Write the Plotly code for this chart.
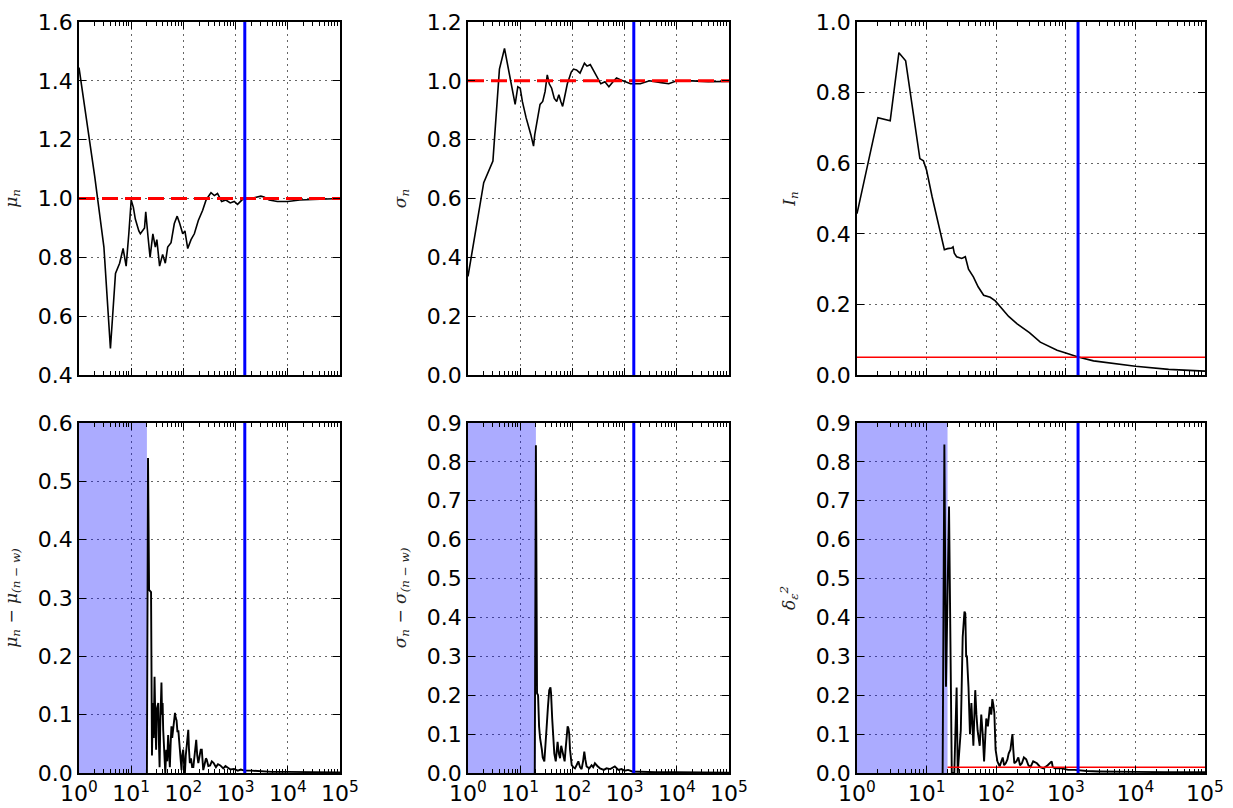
import plotly.graph_objects as go

# ---------------- data ----------------
n_mu = [1, 2, 3, 4, 5, 6, 7, 8, 9, 10, 11, 12, 14, 15, 18, 19, 21, 23, 26, 29, 31, 35, 40, 45, 50,
        58, 67, 76, 85, 97, 107, 121, 140, 162, 193, 234, 272, 338, 392, 450, 540, 650, 790, 940,
        1090, 1360, 1960, 3050, 3500, 4400, 6300, 10000, 17000, 40000, 100000]
mu = [1.445, 1.075, 0.835, 0.49, 0.745, 0.78, 0.83, 0.77, 0.88, 0.995, 0.97, 0.93, 0.89, 0.88, 0.90,
      0.955, 0.87, 0.80, 0.88, 0.835, 0.86, 0.77, 0.81, 0.78, 0.835, 0.85, 0.915, 0.94, 0.915, 0.88,
      0.89, 0.83, 0.86, 0.88, 0.925, 0.96, 0.995, 1.02, 1.01, 1.017, 0.99, 0.995, 0.985, 0.99,
      0.98, 0.997, 1.0, 1.008, 1.005, 0.995, 0.99, 0.99, 0.995, 0.998, 1.0]

n_sigma = [1, 2, 3, 4, 5, 6, 7, 8, 9, 10, 11, 13, 16, 18, 19, 21, 24, 27, 30, 33, 36, 40, 45, 50, 55,
           60, 65, 70, 80, 95, 105, 120, 140, 170, 190, 220, 260, 300, 350, 420, 500, 600, 700, 850,
           1000, 1300, 2000, 3000, 5000, 7000, 10000, 20000, 40000, 100000]
sigma = [0.335, 0.654, 0.727, 1.04, 1.11, 1.04, 0.975, 0.92, 0.98, 0.975, 0.93, 0.874, 0.817, 0.778,
         0.817, 0.862, 0.92, 0.93, 0.964, 1.02, 0.99, 0.975, 0.94, 0.93, 0.953, 0.93, 0.913, 0.94,
         0.99, 1.03, 1.04, 1.037, 1.026, 1.06, 1.05, 1.055, 1.03, 1.01, 0.99, 0.997, 0.98, 0.997,
         1.01, 1.003, 0.997, 0.99, 0.99, 1.0, 0.994, 0.99, 1.0, 1.0, 0.997, 0.998]

n_info = [1, 2, 3, 4, 5, 6, 7, 8, 9, 10, 12, 14, 16, 18, 20, 23, 24, 25, 27, 30, 32, 36, 40, 47, 55,
          66, 82, 97, 120, 151, 200, 250, 300, 430, 600, 750, 1000, 1500, 2500, 3900, 10000, 30000,
          100000]
info = [0.457, 0.729, 0.72, 0.913, 0.89, 0.78, 0.68, 0.613, 0.607, 0.58, 0.505, 0.448, 0.40, 0.355,
        0.358, 0.36, 0.363, 0.345, 0.335, 0.332, 0.33, 0.335, 0.30, 0.278, 0.25, 0.226, 0.22, 0.21,
        0.188, 0.166, 0.145, 0.131, 0.12, 0.093, 0.08, 0.07, 0.062, 0.051, 0.04, 0.035, 0.025,
        0.016, 0.011]

n_dmu = [20, 21, 22, 24, 25, 26, 27, 28, 29, 30, 31, 33, 34, 35, 36, 38, 39, 40, 41, 43, 45, 47, 49,
         51, 53, 55, 57, 59, 61, 63, 66, 69, 71, 74, 77, 80, 83, 86, 89, 92, 95, 99, 103, 107, 111,
         116, 120, 124, 128, 133, 140, 147, 155, 163, 170, 176, 184, 193, 205, 215, 225, 232, 240,
         255, 270, 280, 300, 325, 350, 380, 420, 460, 510, 580, 640, 690, 800, 930, 1100, 1260,
         1460, 2000, 3000, 5000, 10000, 30000, 100000]
dmu = [0.0, 0.54, 0.314, 0.31, 0.03, 0.12, 0.06, 0.165, 0.09, 0.04, 0.11, 0.12, 0.05, 0.01, 0.08,
       0.155, 0.1, 0.12, 0.074, 0.03, 0.0, 0.04, 0.02, 0.065, 0.03, 0.01, 0.05, 0.08, 0.06, 0.074,
       0.09, 0.103, 0.095, 0.09, 0.07, 0.073, 0.055, 0.04, 0.02, 0.005, 0.03, 0.04, 0.015, 0.0,
       0.03, 0.05, 0.065, 0.074, 0.04, 0.017, 0.025, 0.01, 0.01, 0.03, 0.05, 0.057, 0.03, 0.017,
       0.03, 0.04, 0.04, 0.02, 0.005, 0.015, 0.025, 0.023, 0.012, 0.013, 0.02, 0.017, 0.01, 0.015,
       0.013, 0.008, 0.012, 0.01, 0.006, 0.007, 0.004, 0.006, 0.004, 0.004, 0.003, 0.002, 0.002,
       0.001, 0.001]

n_dsigma = [19, 20, 21, 22, 23, 24, 26, 27, 29, 30, 32, 34, 36, 38, 39, 41, 43, 45, 48, 50, 52, 55,
            58, 61, 63, 67, 71, 74, 78, 81, 84, 87, 90, 94, 97, 104, 112, 120, 130, 140, 150, 160,
            169, 177, 187, 210, 233, 250, 270, 300, 337, 400, 450, 530, 650, 760, 870, 1000, 1170,
            1400, 2000, 4000, 10000, 30000, 100000]
dsigma = [0.0, 0.843, 0.205, 0.2, 0.12, 0.09, 0.06, 0.04, 0.03, 0.07, 0.115, 0.17, 0.213, 0.22,
          0.205, 0.14, 0.085, 0.05, 0.03, 0.06, 0.08, 0.05, 0.038, 0.07, 0.06, 0.04, 0.03, 0.06,
          0.1, 0.12, 0.115, 0.1, 0.06, 0.03, 0.02, 0.015, 0.012, 0.02, 0.03, 0.015, 0.01, 0.03,
          0.055, 0.035, 0.017, 0.012, 0.02, 0.015, 0.025, 0.018, 0.012, 0.008, 0.012, 0.01, 0.017,
          0.008, 0.01, 0.006, 0.008, 0.004, 0.003, 0.002, 0.002, 0.001, 0.001]

n_delta = [17, 18, 19, 21, 23, 25, 27, 28, 31, 33, 35, 36, 37, 38, 40, 42, 44, 47, 48, 50, 52, 54,
           58, 61, 64, 67, 70, 72, 76, 81, 85, 88, 91, 94, 98, 104, 112, 118, 124, 130, 137, 145,
           151, 160, 171, 176, 182, 195, 208, 220, 234, 250, 270, 290, 310, 340, 385, 430, 480,
           550, 627, 650, 700, 870, 1080, 1340, 2000, 3000, 5000, 10000, 30000, 100000]
delta = [0.0, 0.845, 0.222, 0.685, 0.0, 0.0, 0.22, 0.0, 0.11, 0.35, 0.415, 0.41, 0.3, 0.3, 0.22,
         0.1, 0.18, 0.07, 0.12, 0.213, 0.15, 0.11, 0.07, 0.15, 0.1, 0.03, 0.1, 0.14, 0.12, 0.17,
         0.15, 0.19, 0.175, 0.155, 0.06, 0.03, 0.017, 0.03, 0.04, 0.02, 0.025, 0.035, 0.05, 0.06,
         0.1, 0.06, 0.025, 0.03, 0.04, 0.02, 0.025, 0.04, 0.035, 0.02, 0.015, 0.03, 0.025, 0.015,
         0.012, 0.02, 0.03, 0.015, 0.012, 0.012, 0.008, 0.008, 0.005, 0.004, 0.003, 0.003, 0.002,
         0.002]

n_start, n_end = 1, 100000
window = 20          # shaded warm-up window
n_stop = 1500        # stopping point (blue line)
mu_true = 1.0
sigma_true = 1.0
info_threshold = 0.05
delta_threshold = 0.015

decade_vals = [1, 10, 100, 1000, 10000, 100000]
decade_text = ["10<sup>0</sup>", "10<sup>1</sup>", "10<sup>2</sup>", "10<sup>3</sup>",
               "10<sup>4</sup>", "10<sup>5</sup>"]
minor_vals = [m * d for d in decade_vals[:-1] for m in range(2, 10)]

# ---------------- figure ----------------
W, H = 1233, 808
col_px = [(79, 340), (468, 729), (857, 1205)]
row_px = [(22, 375), (423, 773)]

panels = [
    dict(n=n_mu, v=mu, yr=[0.4, 1.6], dt=0.2, title="<i>μ<sub>n</sub></i>", ref=mu_true),
    dict(n=n_sigma, v=sigma, yr=[0.0, 1.2], dt=0.2, title="<i>σ<sub>n</sub></i>", ref=sigma_true),
    dict(n=n_info, v=info, yr=[0.0, 1.0], dt=0.2, title="<i>I<sub>n</sub></i>", thr=(n_start, info_threshold)),
    dict(n=n_dmu, v=dmu, yr=[0.0, 0.6], dt=0.1, title="<i>μ<sub>n</sub></i> − <i>μ<sub>(n − w)</sub></i>", shade=True),
    dict(n=n_dsigma, v=dsigma, yr=[0.0, 0.9], dt=0.1, title="<i>σ<sub>n</sub></i> − <i>σ<sub>(n − w)</sub></i>", shade=True),
    dict(n=n_delta, v=delta, yr=[0.0, 0.9], dt=0.1, title="<i>δ<sub>ε</sub><sup>2</sup></i>", shade=True,
         thr=(window, delta_threshold)),
]

fig = go.Figure()
layout = dict(width=W, height=H, margin=dict(l=0, r=0, t=0, b=0), showlegend=False,
              paper_bgcolor="white", plot_bgcolor="white", template="none")

tickfont = dict(family="DejaVu Sans", size=22, color="black")
grid_color = "rgba(0,0,0,0.6)"

for i, p in enumerate(panels):
    k = i + 1
    xa = "x" if k == 1 else f"x{k}"
    ya = "y" if k == 1 else f"y{k}"
    r, c = divmod(i, 3)
    x0p, x1p = col_px[c]
    y0p, y1p = row_px[r]
    y0, y1 = p["yr"]

    if p.get("shade"):
        fig.add_trace(go.Scatter(x=[n_start, window, window, n_start, n_start], y=[y0, y0, y1, y1, y0],
                                 fill="toself", fillcolor="rgba(0,0,255,0.33)", mode="lines",
                                 line=dict(width=0), hoverinfo="skip", xaxis=xa, yaxis=ya))
    fig.add_trace(go.Scatter(x=p["n"], y=p["v"], mode="lines",
                             line=dict(color="black", width=1.6 if r == 0 else 1.9),
                             xaxis=xa, yaxis=ya))
    if "ref" in p:
        fig.add_trace(go.Scatter(x=[n_start, n_end], y=[p["ref"], p["ref"]], mode="lines",
                                 line=dict(color="red", width=3, dash="16px,7px"), xaxis=xa, yaxis=ya))
    if "thr" in p:
        xs, yv = p["thr"]
        fig.add_trace(go.Scatter(x=[xs, n_end], y=[yv, yv], mode="lines",
                                 line=dict(color="red", width=1.5), xaxis=xa, yaxis=ya))
    fig.add_trace(go.Scatter(x=[n_stop, n_stop], y=[y0, y1], mode="lines",
                             line=dict(color="blue", width=3), xaxis=xa, yaxis=ya))

    layout["xaxis" if k == 1 else f"xaxis{k}"] = dict(
        type="log", range=[0, 5], domain=[x0p / W, x1p / W], anchor=ya,
        tickmode="array", tickvals=decade_vals, ticktext=decade_text,
        showticklabels=(r == 1), tickfont=tickfont,
        ticks="inside", ticklen=7, tickwidth=1, tickcolor="black",
        minor=dict(tickvals=minor_vals, ticks="inside", ticklen=4, tickwidth=1,
                   tickcolor="black", showgrid=False),
        mirror="allticks", showline=True, linecolor="black", linewidth=1.5,
        showgrid=True, gridcolor=grid_color, griddash="2px,4px", gridwidth=1,
        zeroline=False, automargin=False)
    layout["yaxis" if k == 1 else f"yaxis{k}"] = dict(
        range=[y0, y1], domain=[1 - y1p / H, 1 - y0p / H], anchor=xa,
        tickmode="linear", tick0=y0, dtick=p["dt"], tickformat=".1f", tickfont=tickfont,
        ticks="inside", ticklen=7, tickwidth=1, tickcolor="black",
        mirror="allticks", showline=True, linecolor="black", linewidth=1.5,
        showgrid=True, gridcolor=grid_color, griddash="2px,4px", gridwidth=1,
        zeroline=False, automargin=False,
        title=dict(text=p["title"], font=dict(family="DejaVu Serif", size=17, color="#222"),
                   standoff=16))

fig.update_layout(**layout)
fig.write_html("out.html", config={"displayModeBar": False},
               post_script="document.body.style.margin='0px';document.body.style.overflow='hidden';")
